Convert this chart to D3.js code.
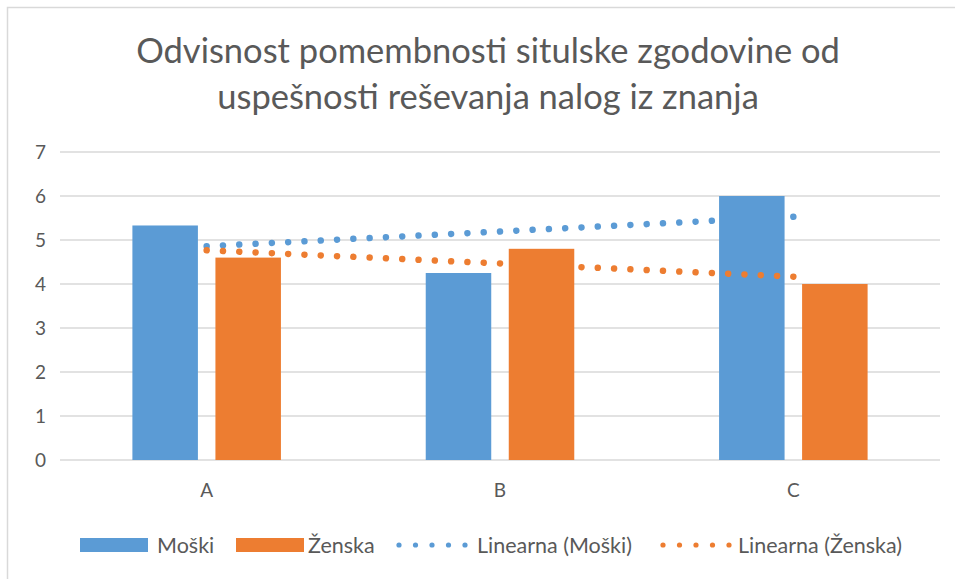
<!DOCTYPE html>
<html>
<head>
<meta charset="utf-8">
<script src="https://cdn.jsdelivr.net/npm/d3@7"></script>
<style>
  body { margin: 0; background: #fff; }
  text { font-family: Lato, "Open Sans", sans-serif; fill: #595959; }
</style>
</head>
<body>
<main></main>
<script>
// chart data
const categories = ['A', 'B', 'C'];
const series_names = ['Moški', 'Ženska'];
const moski = [5.33, 4.25, 6];
const zenska = [4.6, 4.8, 4];
const y_ticks = [0, 1, 2, 3, 4, 5, 6, 7];
const title_lines = ['Odvisnost pomembnosti situlske zgodovine od', 'uspešnosti reševanja nalog iz znanja'];
const legend_labels = ['Moški', 'Ženska', 'Linearna (Moški)', 'Linearna (Ženska)'];

const colors = { 'Moški': '#5B9BD5', 'Ženska': '#ED7D31' };

/**
 * Least squares line through the points (1..n, values)
 */
function linear_fit(values) {
  const xs = values.map((d, i) => i + 1);
  const mx = d3.mean(xs), my = d3.mean(values);
  let num = 0, den = 0;
  for (let i = 0; i < values.length; i++) {
    num += (xs[i] - mx) * (values[i] - my);
    den += (xs[i] - mx) * (xs[i] - mx);
  }
  const slope = num / den;
  return function (x) { return my + slope * (x - mx); };
}

function draw_chart() {
  const width = 955;
  const height = 579;
  const left = 60, right = 940, top = 152, bottom = 460;

  let svg = d3.select('main')
    .append('svg')
    .attr('width', width)
    .attr('height', height);

  // chart frame
  svg.append('rect')
    .attr('x', 7.5).attr('y', 7.5)
    .attr('width', 1000).attr('height', 1000)
    .attr('fill', 'none')
    .attr('stroke', '#d9d9d9')
    .attr('stroke-width', 1.5);

  // title
  svg.append('text')
    .attr('text-anchor', 'middle')
    .style('font-size', '34.5px')
    .selectAll('tspan')
    .data(title_lines)
    .enter()
    .append('tspan')
    .attr('x', 488)
    .attr('y', function (d, i) { return 63 + i * 46; })
    .text(function (d) { return d; });

  const x0 = d3.scaleBand().domain(categories).range([left, right]);
  const x1 = d3.scaleBand().domain(series_names)
    .range([0, x0.bandwidth()])
    .paddingInner(0.211)
    .paddingOuter(0.872);
  const y = d3.scaleLinear().domain([0, 7]).range([bottom, top]);

  // gridlines
  svg.append('g')
    .selectAll('line')
    .data(y_ticks)
    .enter()
    .append('line')
    .attr('x1', left).attr('x2', right)
    .attr('y1', function (d) { return y(d); })
    .attr('y2', function (d) { return y(d); })
    .attr('stroke', '#d9d9d9')
    .attr('stroke-width', 1.3);

  // y axis labels
  const y_axis = svg.append('g')
    .attr('transform', 'translate(' + (left - 14) + ',0)')
    .call(d3.axisLeft(y).tickValues(y_ticks).tickFormat(d3.format('d')).tickSize(0).tickPadding(0));
  y_axis.select('.domain').remove();
  y_axis.selectAll('text').style('font-size', '19px').attr('fill', null);

  // x axis labels
  const x_axis = svg.append('g')
    .attr('transform', 'translate(0,' + (bottom + 23) + ')')
    .call(d3.axisBottom(x0).tickSize(0).tickPadding(0));
  x_axis.select('.domain').remove();
  x_axis.selectAll('text').style('font-size', '19px').attr('fill', null);

  // each series: its trend line first, then its bars on top
  const all_series = [moski, zenska];
  all_series.forEach(function (values, k) {
    const name = series_names[k];
    const f = linear_fit(values);
    const n = categories.length;
    const p0 = [x0(categories[0]) + x0.bandwidth() / 2, y(f(1))];
    const p1 = [x0(categories[n - 1]) + x0.bandwidth() / 2, y(f(n))];
    const len = Math.hypot(p1[0] - p0[0], p1[1] - p0[1]);
    const gap = len / Math.round(len / 16.3);
    // extend the path a bit so the final dot is drawn
    const ext = 0.5 / len;
    const pe = [p1[0] + (p1[0] - p0[0]) * ext, p1[1] + (p1[1] - p0[1]) * ext];
    svg.append('path')
      .attr('d', d3.line()([p0, pe]))
      .attr('fill', 'none')
      .attr('stroke', colors[name])
      .attr('stroke-width', 6.5)
      .attr('stroke-linecap', 'round')
      .attr('stroke-dasharray', '0.01 ' + (gap - 0.01));

    svg.append('g')
      .selectAll('rect')
      .data(values)
      .enter()
      .append('rect')
      .attr('x', function (d, i) { return x0(categories[i]) + x1(name); })
      .attr('width', x1.bandwidth())
      .attr('y', function (d) { return y(d); })
      .attr('height', function (d) { return bottom - y(d); })
      .attr('fill', colors[name]);
  });

  // legend
  const legend = svg.append('g').style('font-size', '21.5px');
  const item_x = [80, 236, 399, 663];
  const text_x = [157, 308, 477, 738];
  const ly = 545;
  legend_labels.forEach(function (label, i) {
    const col = colors[series_names[i % 2]];
    if (i < 2) {
      legend.append('rect')
        .attr('x', item_x[i]).attr('y', ly - 7)
        .attr('width', 68).attr('height', 14)
        .attr('fill', col);
    } else {
      legend.selectAll(null)
        .data(d3.range(5))
        .enter()
        .append('circle')
        .attr('cx', function (d) { return item_x[i] + d * 16.5; })
        .attr('cy', ly)
        .attr('r', 2.6)
        .attr('fill', col);
    }
    legend.append('text')
      .attr('x', text_x[i])
      .attr('y', ly + 7.5)
      .text(label);
  });
}

draw_chart();
</script>
</body>
</html>
